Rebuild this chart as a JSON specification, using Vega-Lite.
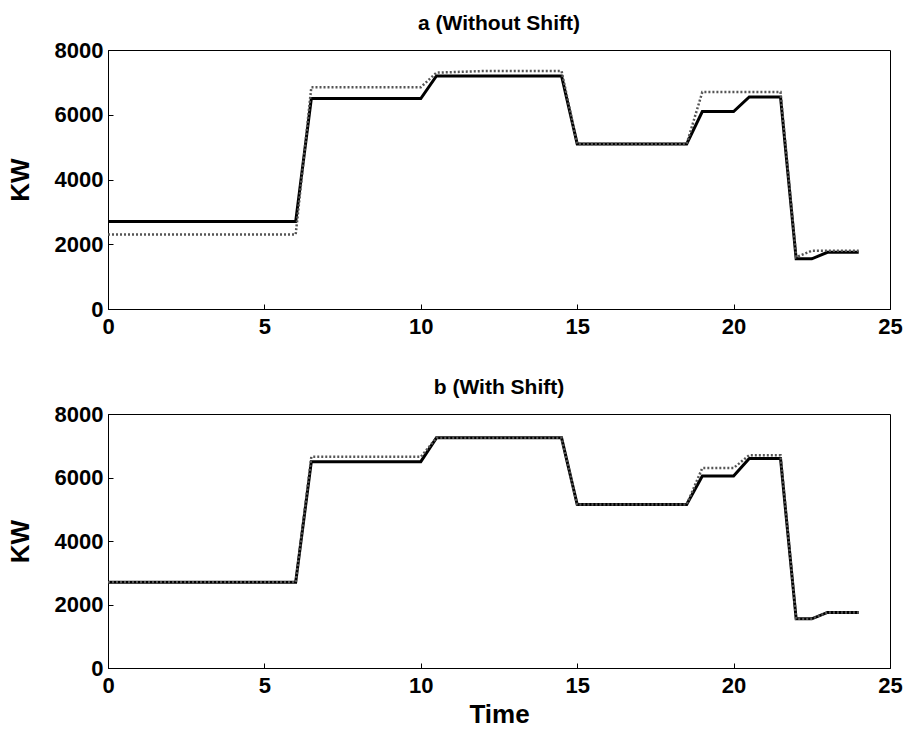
{
  "$schema": "https://vega.github.io/schema/vega-lite/v6.json",
  "background": "white",
  "padding": {"left": 6, "top": 12, "right": 12, "bottom": 0},
  "config": {
    "font": "Liberation Sans",
    "view": {"stroke": "black", "strokeWidth": 1},
    "axis": {
      "grid": false,
      "domainColor": "black",
      "tickColor": "black",
      "labelFont": "Liberation Sans",
      "labelFontWeight": "bold",
      "labelFontSize": 22,
      "labelColor": "black",
      "labelFlush": false,
      "format": "d",
      "titleFont": "Liberation Sans",
      "titleFontSize": 26,
      "titleFontWeight": "bold",
      "titleColor": "black",
      "tickSize": -5,
      "labelPadding": 10
    },
    "axisX": {"labelPadding": 12},
    "title": {"font": "Liberation Sans", "fontSize": 21, "fontWeight": "bold", "color": "black", "offset": 5}
  },
  "datasets": {
    "a_solid": [
      {"t": 0, "kw": 2700}, {"t": 6, "kw": 2700}, {"t": 6.5, "kw": 6500}, {"t": 10, "kw": 6500},
      {"t": 10.5, "kw": 7200}, {"t": 14.5, "kw": 7200}, {"t": 15, "kw": 5100}, {"t": 18.5, "kw": 5100},
      {"t": 19, "kw": 6100}, {"t": 20, "kw": 6100}, {"t": 20.5, "kw": 6550}, {"t": 21.5, "kw": 6550},
      {"t": 22, "kw": 1550}, {"t": 22.5, "kw": 1550}, {"t": 23, "kw": 1750}, {"t": 24, "kw": 1750}
    ],
    "a_dotted": [
      {"t": 0, "kw": 2300}, {"t": 6, "kw": 2300}, {"t": 6.5, "kw": 6850}, {"t": 10, "kw": 6850},
      {"t": 10.5, "kw": 7300}, {"t": 12, "kw": 7350}, {"t": 14.5, "kw": 7350}, {"t": 15, "kw": 5100},
      {"t": 18.5, "kw": 5100}, {"t": 18.75, "kw": 5900}, {"t": 19, "kw": 6700}, {"t": 21.5, "kw": 6700},
      {"t": 22, "kw": 1600}, {"t": 22.5, "kw": 1800}, {"t": 24, "kw": 1800}
    ],
    "b_solid": [
      {"t": 0, "kw": 2700}, {"t": 6, "kw": 2700}, {"t": 6.5, "kw": 6500}, {"t": 10, "kw": 6500},
      {"t": 10.5, "kw": 7250}, {"t": 14.5, "kw": 7250}, {"t": 15, "kw": 5150}, {"t": 18.5, "kw": 5150},
      {"t": 19, "kw": 6050}, {"t": 20, "kw": 6050}, {"t": 20.5, "kw": 6600}, {"t": 21.5, "kw": 6600},
      {"t": 22, "kw": 1550}, {"t": 22.5, "kw": 1550}, {"t": 23, "kw": 1750}, {"t": 24, "kw": 1750}
    ],
    "b_dotted": [
      {"t": 0, "kw": 2700}, {"t": 6, "kw": 2700}, {"t": 6.5, "kw": 6650}, {"t": 10, "kw": 6650},
      {"t": 10.5, "kw": 7250}, {"t": 14.5, "kw": 7250}, {"t": 15, "kw": 5150}, {"t": 18.5, "kw": 5150},
      {"t": 19, "kw": 6300}, {"t": 20, "kw": 6300}, {"t": 20.5, "kw": 6700}, {"t": 21.5, "kw": 6700},
      {"t": 22, "kw": 1550}, {"t": 22.5, "kw": 1550}, {"t": 23, "kw": 1750}, {"t": 24, "kw": 1750}
    ]
  },
  "spacing": 38,
  "vconcat": [
    {
      "width": 782,
      "height": 259,
      "title": "a (Without Shift)",
      "encoding": {
        "x": {"field": "t", "type": "quantitative", "scale": {"domain": [0, 25], "nice": false}, "axis": {"values": [0, 5, 10, 15, 20, 25], "title": null}},
        "y": {"field": "kw", "type": "quantitative", "scale": {"domain": [0, 8000], "nice": false}, "axis": {"values": [0, 2000, 4000, 6000, 8000], "title": "KW", "titlePadding": 21}}
      },
      "layer": [
        {"data": {"name": "a_solid"}, "mark": {"type": "line", "color": "black", "strokeWidth": 3}},
        {"data": {"name": "a_dotted"}, "mark": {"type": "line", "color": "#555555", "strokeWidth": 2.5, "strokeDash": [2, 2]}}
      ]
    },
    {
      "width": 782,
      "height": 254,
      "title": "b (With Shift)",
      "encoding": {
        "x": {"field": "t", "type": "quantitative", "scale": {"domain": [0, 25], "nice": false}, "axis": {"values": [0, 5, 10, 15, 20, 25], "title": "Time", "titlePadding": 5}},
        "y": {"field": "kw", "type": "quantitative", "scale": {"domain": [0, 8000], "nice": false}, "axis": {"values": [0, 2000, 4000, 6000, 8000], "title": "KW", "titlePadding": 21}}
      },
      "layer": [
        {"data": {"name": "b_solid"}, "mark": {"type": "line", "color": "black", "strokeWidth": 3}},
        {"data": {"name": "b_dotted"}, "mark": {"type": "line", "color": "#555555", "strokeWidth": 2.5, "strokeDash": [2, 2]}}
      ]
    }
  ]
}
